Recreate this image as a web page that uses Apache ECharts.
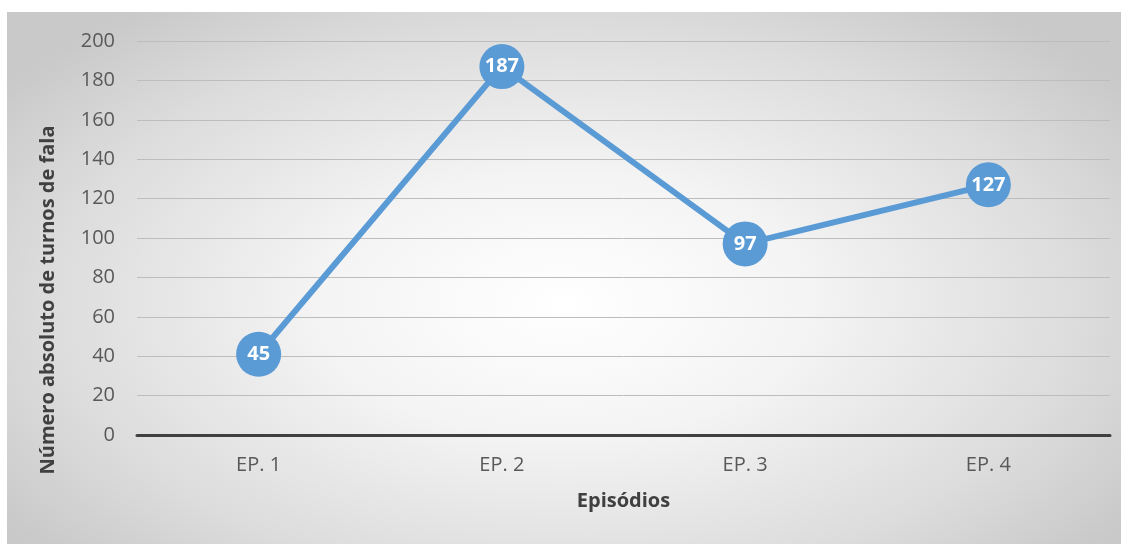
<!DOCTYPE html>
<html>
  <head>
    <meta charset="utf-8" />
    <title>Turnos de fala</title>
    <style>
      html,
      body {
        margin: 0;
        padding: 0;
        background: #fff;
      }
      #chart-container {
        position: absolute;
        left: 7px;
        top: 12px;
        width: 1114px;
        height: 532px;
        background: radial-gradient(ellipse 62% 70% at 50% 55%, #ffffff 0%, #f4f4f4 35%, #dcdcdc 75%, #c9c9c9 100%);
      }
    </style>
    <script src="https://cdn.jsdelivr.net/npm/echarts@6/dist/echarts.min.js"></script>
  </head>
  <body>
    <div id="chart-container"></div>

    <script>
      // dados
      var episodios = ["EP. 1", "EP. 2", "EP. 3", "EP. 4"];
      var turnos = [41, 187, 97, 127]; // posição dos pontos
      var rotulos = [45, 187, 97, 127]; // texto dentro dos marcadores
      var yTicks = [0, 20, 40, 60, 80, 100, 120, 140, 160, 180, 200];

      var fonte = "Open Sans";
      var myChart = echarts.init(document.getElementById("chart-container"), "", {
        renderer: "canvas",
      });

      var option = {
        backgroundColor: "transparent",
        animation: false,
        grid: {
          left: 130,
          top: 29,
          width: 973,
          height: 394,
        },
        xAxis: {
          type: "category",
          data: episodios,
          name: "Episódios",
          nameLocation: "middle",
          nameGap: 56,
          nameTextStyle: { fontFamily: fonte, fontSize: 20, fontWeight: "bold", color: "#404040" },
          axisLine: { lineStyle: { color: "#404040", width: 3 } },
          axisTick: { show: false },
          axisLabel: { fontFamily: fonte, fontSize: 20, color: "#595959", margin: 20 },
        },
        yAxis: {
          type: "value",
          min: yTicks[0],
          max: yTicks[yTicks.length - 1],
          interval: 20,
          name: "Número absoluto de turnos de fala",
          nameLocation: "middle",
          nameGap: 79,
          // o título fica deslocado para baixo no original
          nameTextStyle: {
            fontFamily: fonte,
            fontSize: 20,
            fontWeight: "bold",
            color: "#404040",
            padding: [0, 124, 0, 0],
          },
          axisLine: { show: false },
          axisTick: { show: false },
          axisLabel: { fontFamily: fonte, fontSize: 20, color: "#595959", margin: 22 },
          splitLine: { lineStyle: { color: "#bdbdbd", width: 1 } },
        },
        series: [
          {
            type: "line",
            data: turnos,
            symbol: "circle",
            symbolSize: 45,
            lineStyle: { color: "#5b9bd5", width: 6 },
            itemStyle: { color: "#5b9bd5" },
            label: {
              show: true,
              position: "inside",
              fontFamily: fonte,
              fontSize: 20,
              fontWeight: "bold",
              color: "#ffffff",
              formatter: function (p) {
                return rotulos[p.dataIndex];
              },
            },
          },
        ],
      };
      myChart.setOption(option);
    </script>
  </body>
</html>
